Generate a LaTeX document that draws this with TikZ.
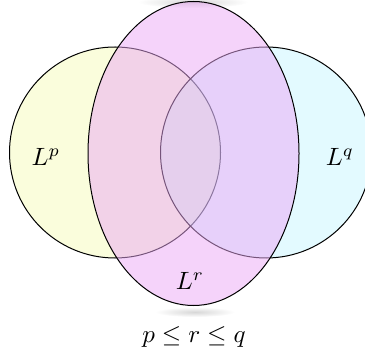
\documentclass[tikz,border=0pt]{standalone}
\usepackage{amsmath}
\usepackage{xcolor}
\usepackage{tikz}
\usetikzlibrary{positioning}
\definecolor{PaleYellow}{HTML}{FAFDDC}
\definecolor{SkyCyan}{HTML}{A1EDFF}
\definecolor{Orchid}{HTML}{EBA8F5}
\definecolor{ShadowGray}{HTML}{9A9A9A}

\begin{document}
\begin{tikzpicture}[
    x=0.4pt, y=-0.4pt, % one unit = one pixel of the reference, y downwards
    setp/.style={draw=black, fill=PaleYellow},
    setq/.style={draw=black, fill=SkyCyan, fill opacity=0.3},
    setr/.style={draw=black, fill=Orchid, fill opacity=0.5},
    blur/.style={inner color=ShadowGray!40, outer color=white}
]
\clip (0,0) rectangle (365,358);

% faint shadows above and below the ellipse
\shade[blur] (193,2) ellipse (55 and 6);
\shade[blur] (195,312) ellipse (40 and 5);

% the three sets
\draw[setp] (115,152.5) circle (105.5);
\draw[setq] (266,152.5) circle (105.5);
\draw[setr] (193.5,153.5) ellipse (105.5 and 152);

% labels
\node (lp) at (46,157) {$L^p$};
\node (lq) at (340,157) {$L^q$};
\node (lr) at (190,281) {$L^r$};
\node (cond) at (194,337) {$p \le r \le q$};
\end{tikzpicture}
\end{document}
